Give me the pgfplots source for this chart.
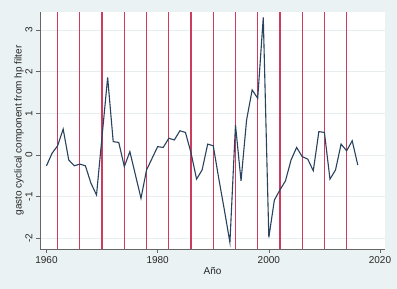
\documentclass[border=0pt]{standalone}
\usepackage{pgfplots}
\usepackage{pgfplotstable}
\pgfplotsset{compat=1.18}
\usepackage{fontspec}
\setmainfont{Liberation Sans}
\definecolor{bgc}{RGB}{234,242,243}
\definecolor{stnavy}{RGB}{40,66,95}
\definecolor{redl}{RGB}{205,60,95}
\definecolor{gridc}{RGB}{232,238,240}
\pgfplotstableread{
year v
1960 -0.26
1961 0.04
1962 0.22
1963 0.62
1964 -0.12
1965 -0.26
1966 -0.22
1967 -0.26
1968 -0.68
1969 -0.96
1970 0.45
1971 1.86
1972 0.32
1973 0.30
1974 -0.28
1975 0.08
1976 -0.48
1977 -1.04
1978 -0.36
1979 -0.08
1980 0.20
1981 0.18
1982 0.40
1983 0.36
1984 0.58
1985 0.54
1986 0.05
1987 -0.58
1988 -0.36
1989 0.26
1990 0.22
1991 -0.57
1992 -1.32
1993 -2.10
1994 0.72
1995 -0.62
1996 0.84
1997 1.56
1998 1.36
1999 3.30
2000 -1.98
2001 -1.08
2002 -0.84
2003 -0.62
2004 -0.12
2005 0.18
2006 -0.04
2007 -0.10
2008 -0.38
2009 0.56
2010 0.54
2011 -0.58
2012 -0.36
2013 0.26
2014 0.10
2015 0.34
2016 -0.24
}\datatab
\pgfplotstableread{
year lo len
1962 -2.257 5.687
1966 -2.257 5.687
1970 -2.257 5.687
1974 -2.257 5.687
1978 -2.257 5.687
1982 -2.257 5.687
1986 -2.257 5.687
1990 -2.257 5.687
1994 -2.257 5.687
1998 -2.257 5.687
2002 -2.257 5.687
2006 -2.257 5.687
2010 -2.257 5.687
2014 -2.257 5.687
}\redtab
\begin{document}
\begin{tikzpicture}
\fill[bgc] (-40pt,-40pt) rectangle (357pt,249pt);
\begin{axis}[
  at={(0,0)}, anchor=south west,
  scale only axis, width=345pt, height=237pt,
  xmin=1958.83, xmax=2020.9, ymin=-2.257, ymax=3.43,
  axis background/.style={fill=white},
  axis x line*=bottom, axis y line*=left,
  axis line style={draw=black!60, line width=0.6pt, -},
  xtick={1960,1980,2000,2020},
  ytick={-2,-1,0,1,2,3},
  tick align=outside, major tick length=4pt,
  tick style={black!60, line width=0.6pt},
  ymajorgrids, grid style={gridc, line width=0.8pt},
  clip=false,
  tick label style={font=\fontsize{10}{12}\selectfont, text=black!85},
  yticklabel style={rotate=90, anchor=south},
  xlabel={Año}, ylabel={gasto cyclical component from hp filter},
  label style={font=\fontsize{10}{12}\selectfont, text=black!85},
  xlabel style={at={(axis description cs:0.5,-0.093)}, anchor=center},
  ylabel style={at={(axis description cs:-0.061,0.5)}, anchor=center},
  /pgf/number format/assume math mode=true,
  /pgf/number format/.cd, 1000 sep={},
]
\addplot[draw=none, mark=none, forget plot,
  error bars/.cd, y dir=plus, y explicit,
  error bar style={redl, line width=1.2pt}, error mark=none]
  table[x=year, y=lo, y error=len] {\redtab};
\addplot[stnavy, line width=1.1pt, mark=none] table[x=year, y=v] {\datatab};
\end{axis}
\end{tikzpicture}
\end{document}
